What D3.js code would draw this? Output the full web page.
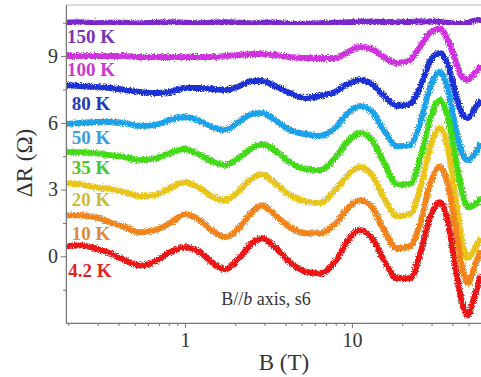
<!DOCTYPE html>
<html>
<head>
<meta charset="utf-8">
<script src="https://cdn.jsdelivr.net/npm/d3@7"></script>
<style>
  html, body { margin: 0; padding: 0; background: #fff; }
  svg { display: block; }
</style>
</head>
<body>
<svg id="chart" width="481" height="377"></svg>
<script>
// Field grid (T) shared by every trace
const fieldT = [0.194, 0.235, 0.289, 0.356, 0.437, 0.538, 0.661, 0.813, 1.0, 1.23,
  1.45, 1.74, 2.13, 2.52, 2.89, 3.46, 4.25, 5.23, 6.43, 7.91,
  9.47, 11.2, 13.2, 15.8, 18.6, 22.3, 25.5, 29.3, 33.6, 37.6,
  42.0, 46.2, 49.5, 53.8, 59.2];

// Offset ΔR traces (Ω)
const dR_4K = [0.45, 0.50, 0.36, 0.14, -0.18, -0.41, -0.23, 0.18, 0.41, 0.18,
  -0.27, -0.59, -0.05, 0.59, 0.81, 0.41, -0.27, -0.68, -0.77, -0.27,
  0.72, 1.17, 0.81, -0.27, -0.99, -0.99, 0.05, 1.71, 2.43, 1.53,
  -0.63, -2.21, -2.66, -1.89, -0.86];
const dR_10K = [1.85, 1.85, 1.76, 1.53, 1.31, 1.08, 1.17, 1.49, 1.89, 1.62,
  1.17, 0.86, 1.31, 1.98, 2.30, 1.85, 1.31, 1.04, 1.04, 1.44,
  2.16, 2.52, 2.21, 1.08, 0.36, 0.45, 1.40, 3.20, 4.01, 3.20,
  1.17, -0.63, -1.22, -0.54, 0.27];
const dR_20K = [3.29, 3.24, 3.11, 3.02, 2.88, 2.70, 2.75, 3.06, 3.33, 3.06,
  2.70, 2.52, 2.97, 3.51, 3.69, 3.29, 2.75, 2.48, 2.39, 2.97,
  3.65, 4.01, 3.65, 2.52, 1.80, 1.89, 2.97, 4.86, 5.77, 4.86,
  2.52, 0.50, -0.09, 0.27, 0.81];
const dR_35K = [4.68, 4.68, 4.64, 4.55, 4.46, 4.32, 4.41, 4.64, 4.82, 4.55,
  4.28, 4.10, 4.46, 4.86, 5.05, 4.77, 4.23, 3.92, 3.87, 4.41,
  5.18, 5.54, 5.23, 4.10, 3.24, 3.24, 4.32, 6.13, 7.03, 6.22,
  4.32, 2.75, 2.21, 2.30, 2.61];
const dR_50K = [5.95, 5.99, 6.04, 6.04, 5.99, 5.86, 5.90, 6.13, 6.26, 6.08,
  5.81, 5.68, 6.08, 6.40, 6.44, 6.13, 5.68, 5.50, 5.41, 5.77,
  6.44, 6.76, 6.49, 5.59, 4.95, 5.00, 5.95, 7.57, 8.29, 7.48,
  5.68, 4.55, 4.32, 4.55, 5.09];
const dR_80K = [7.70, 7.66, 7.61, 7.57, 7.48, 7.39, 7.34, 7.39, 7.57, 7.57,
  7.52, 7.48, 7.66, 7.88, 7.88, 7.66, 7.34, 7.12, 7.21, 7.39,
  7.75, 7.93, 7.75, 7.16, 6.76, 6.85, 7.57, 8.74, 9.14, 8.60,
  7.25, 6.35, 6.22, 6.58, 7.03];
const dR_100K = [9.01, 9.01, 9.01, 9.01, 9.01, 8.96, 8.96, 8.96, 8.96, 8.96,
  8.96, 9.01, 9.05, 9.10, 9.10, 9.05, 8.96, 8.92, 8.92, 8.92,
  9.19, 9.41, 9.32, 8.92, 8.69, 8.83, 9.41, 10.05, 10.23, 9.73,
  8.74, 8.02, 7.93, 8.20, 8.56];
const dR_150K = [10.50, 10.52, 10.48, 10.50, 10.50, 10.47, 10.50, 10.52, 10.50, 10.48,
  10.50, 10.52, 10.50, 10.47, 10.50, 10.50, 10.45, 10.45, 10.48, 10.50,
  10.52, 10.55, 10.55, 10.54, 10.52, 10.54, 10.56, 10.56, 10.54, 10.50,
  10.45, 10.45, 10.50, 10.59, 10.68];

const tempLabels = ['150 K', '100 K', '80 K', '50 K', '35 K', '20 K', '10 K', '4.2 K'];
const traces = [dR_150K, dR_100K, dR_80K, dR_50K, dR_35K, dR_20K, dR_10K, dR_4K];
// label anchor (baseline-left, in data units)
const labelB = [0.197, 0.197, 0.21, 0.21, 0.21, 0.21, 0.21, 0.20];
const labelR = [9.6, 8.1, 6.6, 5.05, 3.7, 2.25, 0.75, -0.95];

const yTicks = [0, 3, 6, 9];
const yMinor = [-1.5, 1.5, 4.5, 7.5, 10.5];
const xTicks = [1, 10];
const xMinor = [0.2, 0.3, 0.4, 0.5, 0.6, 0.7, 0.8, 0.9, 2, 3, 4, 5, 6, 7, 8, 9, 20, 30, 40, 50, 60];

const lineColours = ['#7a27cf', '#d032e0', '#1c30d4', '#1ea2ea', '#43dc16', '#e9c51a', '#f3841c', '#ec1616'];
const textColours = ['#7a35b0', '#cc38cc', '#2538bb', '#3a9be8', '#45c828', '#cdbb35', '#de8a35', '#de2424'];

const svg = d3.select('#chart');
const x = d3.scaleLog().domain([0.194, 70]).range([66, 493]);
const y = d3.scaleLinear().domain([-3, 11.3]).range([323, 5]);

// Rough edge for the noisy measured traces
const defs = svg.append('defs');
const f = defs.append('filter').attr('id', 'noisy')
  .attr('x', '-5%').attr('y', '-20%').attr('width', '110%').attr('height', '140%');
f.append('feTurbulence').attr('type', 'fractalNoise').attr('baseFrequency', 0.9)
  .attr('numOctaves', 2).attr('seed', 3).attr('result', 'n');
f.append('feDisplacementMap').attr('in', 'SourceGraphic').attr('in2', 'n')
  .attr('scale', 5).attr('xChannelSelector', 'R').attr('yChannelSelector', 'G');
defs.append('clipPath').attr('id', 'plot')
  .append('rect').attr('x', 66).attr('y', 5).attr('width', 430).attr('height', 318);

// Frame (top edge only visible, right edge is cut by the window)
svg.append('rect').attr('x', 66).attr('y', 5).attr('width', 427).attr('height', 318)
  .attr('fill', 'none').attr('stroke', '#b8b8b8').attr('stroke-width', 1);

const line = d3.line()
  .x((d, i) => x(fieldT[i]))
  .y(d => y(d))
  .curve(d3.curveMonotoneX);

svg.append('g').attr('clip-path', 'url(#plot)')
  .selectAll('path').data(traces).enter().append('path')
  .attr('d', d => line(d))
  .attr('fill', 'none')
  .attr('stroke', (d, i) => lineColours[i])
  .attr('stroke-width', 6)
  .attr('stroke-linejoin', 'round')
  .attr('filter', 'url(#noisy)');

// Axes
const axisFont = sel => sel.selectAll('text')
  .attr('font-family', "'Liberation Serif', 'Times New Roman', serif")
  .attr('font-size', 20).attr('fill', '#333');

const styleAxis = g => {
  g.select('.domain').attr('stroke', '#777');
  g.selectAll('.tick line').attr('stroke', '#777');
};

svg.append('g').attr('transform', 'translate(0,323)')
  .call(d3.axisBottom(x).tickValues(xMinor).tickSize(3).tickSizeOuter(0).tickFormat(''))
  .call(styleAxis);
svg.append('g').attr('transform', 'translate(0,323)')
  .call(d3.axisBottom(x).tickValues(xTicks).tickSize(5).tickSizeOuter(0).tickFormat(d3.format('d')).tickPadding(5))
  .call(styleAxis).call(axisFont);

svg.append('g').attr('transform', 'translate(66,0)')
  .call(d3.axisLeft(y).tickValues(yMinor).tickSize(3).tickSizeOuter(0).tickFormat(''))
  .call(styleAxis);
svg.append('g').attr('transform', 'translate(66,0)')
  .call(d3.axisLeft(y).tickValues(yTicks).tickSize(5).tickSizeOuter(0).tickPadding(3))
  .call(styleAxis).call(axisFont);

// Axis titles
svg.append('text')
  .attr('x', 284).attr('y', 370).attr('text-anchor', 'middle')
  .attr('font-family', "'Liberation Serif', serif").attr('font-size', 23).attr('fill', '#333')
  .text('B (T)');
svg.append('text')
  .attr('transform', 'translate(32,163) rotate(-90)').attr('text-anchor', 'middle')
  .attr('font-family', "'Liberation Serif', serif").attr('font-size', 23).attr('fill', '#333')
  .text('ΔR (Ω)');

// Temperature labels
svg.append('g').selectAll('text').data(tempLabels).enter().append('text')
  .attr('x', (d, i) => x(labelB[i]))
  .attr('y', (d, i) => y(labelR[i]))
  .attr('font-family', "'Liberation Serif', serif")
  .attr('font-weight', 'bold').attr('font-size', 19)
  .attr('fill', (d, i) => textColours[i])
  .text(d => d);

// Annotation
const note = svg.append('text')
  .attr('x', 266).attr('y', 305).attr('text-anchor', 'middle')
  .attr('font-family', "'Liberation Serif', serif").attr('font-size', 18).attr('fill', '#333');
note.append('tspan').text('B//');
note.append('tspan').attr('font-style', 'italic').text('b');
note.append('tspan').text(' axis, s6');
</script>
</body>
</html>
